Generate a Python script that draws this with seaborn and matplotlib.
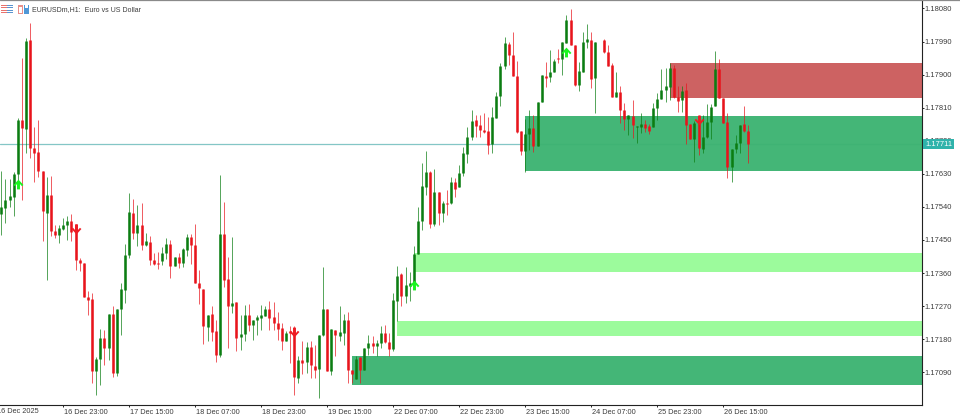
import numpy as np
import pandas as pd
import matplotlib
matplotlib.use("Agg")
import matplotlib.pyplot as plt
import matplotlib.transforms as mtrans
from matplotlib.patches import Rectangle
from matplotlib.path import Path
import seaborn as sns

# prices are points above 1.17000 (bar 145 is blank in the picture)
nan = float("nan")
opens = [521,537,559,567,629,776,752,994,700,689,637,523,572,474,463,480,491,501,493,395,
         387,295,289,93,126,183,156,248,88,262,314,409,523,469,491,436,444,395,387,393,
         414,439,379,404,387,423,458,436,333,316,213,248,202,137,466,344,270,281,186,194,
         246,219,232,238,243,262,240,224,210,175,202,202,74,123,118,159,107,99,191,262,
         93,205,189,197,232,96,72,132,96,156,170,161,170,197,172,153,284,357,297,325,
         333,412,501,594,635,493,580,523,550,550,608,594,632,684,730,776,763,749,746,711,
         782,841,923,983,953,896,746,692,738,754,705,825,896,893,907,945,942,986,1048,980,
         871,907,988,994,890,nan,994,961,926,839,852,803,779,787,757,757,765,760,757,809,
         833,858,866,918,839,831,858,765,724,768,697,730,771,814,915,836,771,648,697,714,
         765,746]
highs = [637,616,616,635,782,945,999,1040,757,776,637,621,624,491,491,510,515,521,493,401,
         387,311,306,132,208,205,248,270,262,333,439,578,561,545,550,469,461,414,417,431,
         455,450,404,414,428,466,466,493,368,316,246,270,232,627,553,404,458,281,246,273,
         276,232,246,273,270,284,281,254,224,202,216,216,134,175,172,175,164,191,376,262,
         208,205,270,248,254,96,134,132,156,191,189,178,216,219,197,306,379,360,376,363,
         433,540,659,692,637,643,580,556,586,621,618,654,703,757,803,790,790,795,784,812,
         852,931,1002,988,1016,937,746,779,803,790,825,899,934,967,942,969,988,1062,1078,980,
         934,1016,1037,1016,988,nan,996,980,931,907,869,822,790,831,760,795,776,765,822,850,
         915,918,931,926,869,869,877,765,773,790,790,820,820,964,942,836,795,697,735,763,
         814,763]
lows = [463,496,540,515,605,559,686,673,608,621,447,341,461,455,442,477,450,447,368,365,
        295,246,61,28,55,110,123,77,80,191,278,401,452,433,423,433,382,382,371,382,
        398,346,379,374,376,406,384,333,276,167,175,175,118,132,322,156,251,148,151,175,
        202,178,191,205,243,205,205,178,151,175,115,28,61,85,88,74,74,20,189,93,
        83,134,175,164,61,61,72,61,96,137,142,134,156,170,134,148,229,270,278,284,
        319,412,477,572,482,488,491,499,518,548,567,594,624,659,722,730,730,741,684,686,
        782,814,915,926,896,741,681,635,695,689,705,825,866,880,907,931,899,986,980,869,
        855,907,972,863,795,nan,958,923,839,839,768,749,735,727,714,741,744,738,757,776,
        833,825,831,836,798,798,711,724,662,681,686,727,724,814,836,768,618,608,686,686,
        744,659]
closes = [540,559,570,629,776,754,991,700,686,637,529,572,474,463,482,491,501,471,395,387,
          295,287,93,126,183,156,248,88,262,316,409,526,469,491,436,447,395,384,384,414,
          439,379,404,387,425,458,436,333,319,216,246,200,137,466,341,270,278,183,194,246,
          219,232,240,246,262,238,224,208,175,197,197,77,123,115,159,110,96,191,262,93,
          208,191,200,232,96,85,126,96,156,170,161,170,197,172,153,287,352,297,327,333,
          412,501,597,635,493,580,523,550,548,608,589,632,686,730,773,760,749,744,708,784,
          841,923,986,953,896,744,692,738,754,705,825,899,890,907,937,942,988,1048,980,871,
          910,988,996,888,988,nan,961,923,839,852,803,779,790,763,760,765,754,746,809,833,
          858,869,918,839,828,855,763,724,768,700,730,771,812,915,836,768,648,697,714,763,
          746,711]

# supply/demand zones: first bar, top, bottom (points above 1.17000)
zone_start = [162, 127, 100, 96, 85]
zone_top = [932, 787, 414, 229, 135]
zone_bottom = [836, 637, 364, 189, 56]
zone_color = ["#cb5c5c", "#3cb371", "#98fb98", "#98fb98", "#3cb371"]

# signal arrows
up_bars = [4, 100, 137]
up_points = [602, 327, 961]
down_bars = [18, 71, 169]
down_points = [480, 200, 776]

last_price = 1.17711
price_ticks = [1.17090, 1.17180, 1.17270, 1.17360, 1.17450, 1.17540,
               1.17630, 1.17720, 1.17810, 1.17900, 1.17990, 1.18080]
time_ticks = [15, 31, 47, 63, 79, 95, 111, 127, 143, 159, 175]
time_labels = ["16 Dec 23:00", "17 Dec 15:00", "18 Dec 07:00", "18 Dec 23:00",
               "19 Dec 15:00", "22 Dec 07:00", "22 Dec 23:00", "23 Dec 15:00",
               "24 Dec 07:00", "25 Dec 23:00", "26 Dec 15:00"]


def to_price(points):
    return 1.17 + np.array(points, dtype=float) * 1e-5


sns.set_theme(style="white")
plt.rcParams["font.family"] = ["Liberation Sans", "DejaVu Sans"]
text_color = "#3c3c3c"
bar_colors = {"up": "#0b7d12", "down": "#e8141c"}

bars = pd.DataFrame({
    "bar": np.arange(len(opens)),
    "open": to_price(opens),
    "high": to_price(highs),
    "low": to_price(lows),
    "close": to_price(closes),
}).dropna()
bars["side"] = np.where(bars["close"] >= bars["open"], "up", "down")
wicks = bars.melt(id_vars=["bar", "side"], value_vars=["high", "low"], value_name="price")
bodies = bars.melt(id_vars=["bar", "side"], value_vars=["open", "close"], value_name="price")

fig = plt.figure(figsize=(9.6, 4.18), dpi=100)
ax = fig.add_axes([0, 13 / 418, 921.7 / 960, 405 / 418])

# price line sits under the zones, which let it through a little
ax.axhline(last_price, color="#84c6c6", lw=0.9, zorder=1)

for start, top, bottom, color in zip(zone_start, zone_top, zone_bottom, zone_color):
    ax.add_patch(Rectangle((start, to_price(bottom)), 240, to_price(top) - to_price(bottom),
                           facecolor=color, edgecolor="none", alpha=0.96, zorder=2))

sns.lineplot(data=wicks, x="bar", y="price", hue="side", units="bar", estimator=None,
             palette=bar_colors, sort=False, lw=0.65, alpha=0.75, legend=False, ax=ax,
             solid_capstyle="butt", zorder=3)
sns.lineplot(data=bodies, x="bar", y="price", hue="side", units="bar", estimator=None,
             palette=bar_colors, sort=False, lw=1.85, legend=False, ax=ax,
             solid_capstyle="butt", zorder=4)

arrow_up = Path([(-1, -0.1), (0, 1), (1, -0.1), (0.7, -0.35), (0.3, 0.1), (0.3, -1),
                 (-0.3, -1), (-0.3, 0.1), (-0.7, -0.35), (-1, -0.1)], closed=True)
arrow_down = Path([(-1, 0.1), (0, -1), (1, 0.1), (0.7, 0.35), (0.3, -0.1), (0.3, 1),
                   (-0.3, 1), (-0.3, -0.1), (-0.7, 0.35), (-1, 0.1)], closed=True)
ax.scatter(up_bars, to_price(up_points), marker=arrow_up, s=50, color="#19f51f", linewidths=0, zorder=5)
ax.scatter(down_bars, to_price(down_points), marker=arrow_down, s=50, color="#ee1c24", linewidths=0, zorder=5)

ax.set_xlim(-0.315, 223.1)
ax.set_ylim(1.17001, 1.18103)
ax.set_xlabel("")
ax.set_ylabel("")

ax.yaxis.tick_right()
ax.set_yticks(price_ticks)
ax.set_yticklabels([f"{p:.5f}" for p in price_ticks])
ax.tick_params(axis="y", length=1.2, width=0.7, color="#222222", pad=0.6,
               labelsize=5.4, labelcolor=text_color, right=True)
ax.set_xticks(time_ticks)
ax.set_xticklabels(time_labels, ha="left")
ax.tick_params(axis="x", length=1.6, width=0.7, color="#222222", pad=1.0,
               labelsize=5.3, labelcolor=text_color, bottom=True)
for lab in ax.get_xticklabels():
    lab.set_transform(lab.get_transform() + mtrans.ScaledTranslation(0.5 / 100, 0, fig.dpi_scale_trans))

# first date sits just off the left edge
ax.text(-1, -0.0172, "16 Dec 2025", transform=ax.get_xaxis_transform(), fontsize=5.3,
        color=text_color, ha="left", va="center", clip_on=False)

for side in ["left", "top"]:
    ax.spines[side].set_visible(False)
for side in ["right", "bottom"]:
    ax.spines[side].set_visible(True)
    ax.spines[side].set_color("#222222")
    ax.spines[side].set_linewidth(0.8)

# last price tag on the price scale
ax.text(1.0036, last_price, f"{last_price:.5f}", transform=ax.get_yaxis_transform(), fontsize=5.4,
        color="white", ha="left", va="center", zorder=6, clip_on=False,
        bbox=dict(boxstyle="square,pad=0.25", fc="#2fb3ab", ec="none"))

# window header
fig.text(32 / 960, 1 - 9.5 / 418, "EURUSDm,H1:  Euro vs US Dollar", fontsize=5.05, color=text_color,
         ha="left", va="center")
fig.add_artist(plt.Line2D([0, 1], [0.999, 0.999], color="#8a8a8a", lw=0.9))


def icon_part(x, y, w, h, color):
    fig.add_artist(Rectangle((x / 960, 1 - (y + h) / 418), w / 960, h / 418, transform=fig.transFigure,
                             facecolor=color, edgecolor="none"))


for row in [4.5, 7, 9.5, 11.5]:
    icon_part(1, row, 5.5, 1.3, "#e8736e")
    icon_part(7, row, 5.5, 1.3, "#5a94cf")
icon_part(17.5, 5, 5.5, 8.5, "#e8908a")
icon_part(18.5, 7, 3.5, 5.5, "#ffffff")
icon_part(24, 5, 5, 8.5, "#4f97d6")
icon_part(25, 5, 3, 3, "#ffffff")

fig.savefig("out.png", dpi=100, facecolor="white")
